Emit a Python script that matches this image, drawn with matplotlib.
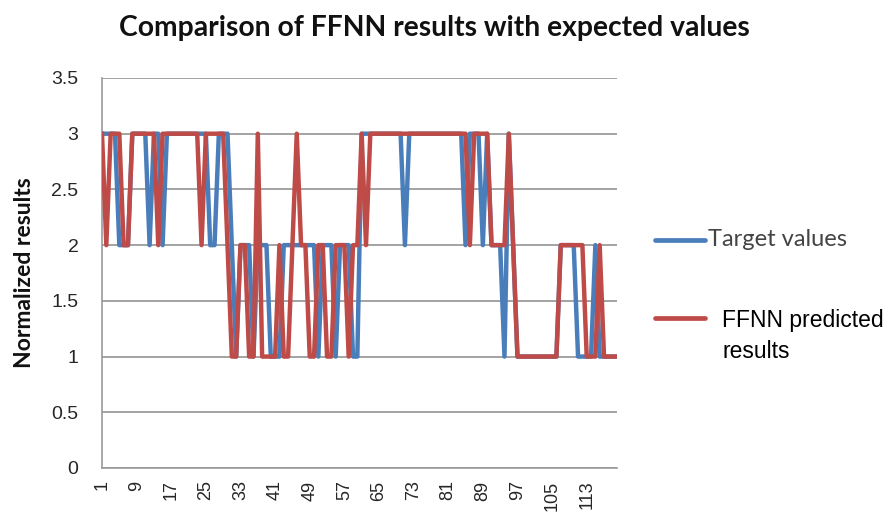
import matplotlib
matplotlib.use("Agg")
import matplotlib.pyplot as plt
from matplotlib.lines import Line2D

categories = list(range(1, 121))

target_values = [
    3, 3, 3, 3, 2, 2, 2, 3, 3, 3,
    3, 2, 3, 3, 2, 3, 3, 3, 3, 3,
    3, 3, 3, 3, 3, 2, 2, 3, 3, 3,
    2, 1, 2, 2, 2, 1, 2, 2, 2, 1,
    1, 1, 2, 2, 2, 2, 2, 2, 2, 2,
    1, 2, 2, 2, 1, 2, 2, 2, 1, 1,
    3, 3, 3, 3, 3, 3, 3, 3, 3, 3,
    2, 3, 3, 3, 3, 3, 3, 3, 3, 3,
    3, 3, 3, 3, 2, 3, 3, 3, 2, 3,
    2, 2, 2, 1, 3, 2, 1, 1, 1, 1,
    1, 1, 1, 1, 1, 1, 2, 2, 2, 2,
    1, 1, 1, 1, 2, 1, 1, 1, 1, 1,
]

ffnn_predicted = [
    3, 2, 3, 3, 3, 2, 2, 3, 3, 3,
    3, 3, 3, 2, 3, 3, 3, 3, 3, 3,
    3, 3, 3, 2, 3, 3, 3, 3, 3, 2,
    1, 1, 2, 2, 1, 1, 3, 1, 1, 1,
    1, 2, 1, 1, 2, 3, 2, 2, 1, 1,
    2, 2, 1, 1, 2, 2, 2, 1, 2, 2,
    3, 2, 3, 3, 3, 3, 3, 3, 3, 3,
    3, 3, 3, 3, 3, 3, 3, 3, 3, 3,
    3, 3, 3, 3, 3, 2, 3, 3, 3, 3,
    2, 2, 2, 2, 3, 2, 1, 1, 1, 1,
    1, 1, 1, 1, 1, 1, 2, 2, 2, 2,
    2, 2, 1, 1, 1, 2, 1, 1, 1, 1,
]

x_tick_labels = [str(v) for v in range(1, 121, 8)]
y_ticks = [0, 0.5, 1, 1.5, 2, 2.5, 3, 3.5]
y_tick_labels = ["0", "0.5", "1", "1.5", "2", "2.5", "3", "3.5"]

series_names = ["Target values", "FFNN predicted\nresults"]
blue = "#4A7EBB"
red = "#BE4B48"

fig = plt.figure(figsize=(8.9, 5.21), dpi=100)
ax = fig.add_axes([102 / 890, 1 - 468 / 521, 515 / 890, 390 / 521])

ax.plot(categories, target_values, color=blue, lw=3.2, solid_joinstyle="round", zorder=3)
ax.plot(categories, ffnn_predicted, color=red, lw=3.2, solid_joinstyle="round", zorder=4)

ax.set_xlim(1, 120)
ax.set_ylim(0, 3.5)
ax.set_yticks(y_ticks)
ax.set_yticklabels(y_tick_labels, family="Liberation Sans", fontsize=14, color="#262626")
ax.set_xticks(list(range(1, 121, 8)))
ax.set_xticklabels(x_tick_labels, rotation=90, family="Liberation Sans", fontsize=13, color="#262626")
ax.tick_params(axis="y", length=0, pad=17)
ax.tick_params(axis="x", length=0, pad=9)
ax.grid(axis="y", color="#8a8a8a", lw=1.1)
ax.set_axisbelow(True)
for s in ["top", "right"]:
    ax.spines[s].set_visible(False)
for s in ["left", "bottom"]:
    ax.spines[s].set_color("#9a9a9a")
    ax.spines[s].set_linewidth(1.2)

ax.set_ylabel("Normalized results", family="Lato", fontweight="bold", fontsize=16.5, color="#111111", labelpad=12)

fig.text(434 / 890, 1 - 28 / 521, "Comparison of FFNN results with expected values",
         family="Lato", fontweight="bold", fontsize=20.3, ha="center", va="center", color="#111111")

# legend drawn manually
fig.add_artist(Line2D([655 / 890, 705 / 890], [1 - 240 / 521, 1 - 240 / 521], color=blue, lw=3.4,
                      solid_capstyle="round"))
fig.text(708 / 890, 1 - 240 / 521, series_names[0], family="Lato", fontsize=17, va="center",
         ha="left", color="#444444")
fig.add_artist(Line2D([655 / 890, 705 / 890], [1 - 318 / 521, 1 - 318 / 521], color=red, lw=3.4,
                      solid_capstyle="round"))
fig.text(722 / 890, 1 - 336 / 521, series_names[1], family="Liberation Sans", fontsize=16.5,
         va="center", ha="left", color="#000000", linespacing=1.45)

fig.savefig("out.png", dpi=100)
